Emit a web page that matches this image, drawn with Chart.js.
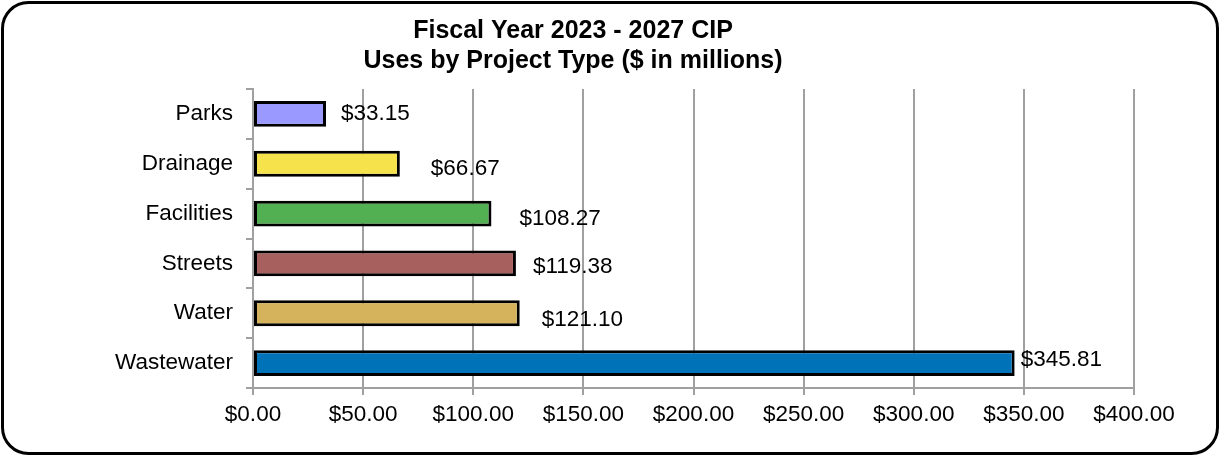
<!DOCTYPE html>
<html lang="en">
  <head>
    <meta charset="utf-8">
    <title>CIP Uses by Project Type</title>
    <style>
      body {
        margin: 0;
        background: #ffffff;
      }
      .chart-box {
        width: 1220px;
        height: 456px;
      }
    </style>
    <script src="https://cdn.jsdelivr.net/npm/chart.js@4.4.4/dist/chart.umd.min.js"></script>
  </head>
  <body>
    <div class="chart-box">
      <canvas id="cip-chart"></canvas>
    </div>
    <script>
      const projectTypes = ['Parks', 'Drainage', 'Facilities', 'Streets', 'Water', 'Wastewater'];
      const usesMillions = [33.15, 66.67, 108.27, 119.38, 121.10, 345.81];
      const titleLines = ['Fiscal Year 2023 - 2027 CIP', 'Uses by Project Type ($ in millions)'];
      const barColors = ['#9999ff', '#f6e34c', '#52b052', '#a8605e', '#d5b35d', '#0072b8'];
      // hand-placed label nudges [dx, dy] in px
      const labelNudges = [[15, 0], [31, 5], [28, 5], [17, 3], [22, 7], [6, -3]];

      const money = v => '$' + Number(v).toFixed(2);
      const font = 'Liberation Sans, Arial, sans-serif';

      const framePlugin = {
        id: 'frame',
        beforeDraw(chart) {
          const ctx = chart.ctx;
          ctx.save();
          ctx.fillStyle = '#ffffff';
          ctx.fillRect(0, 0, chart.width, chart.height);
          ctx.beginPath();
          ctx.roundRect(2.5, 2.5, chart.width - 5, chart.height - 5, 26);
          ctx.lineWidth = 3;
          ctx.strokeStyle = '#000000';
          ctx.stroke();
          ctx.restore();
        },
        afterDraw(chart) {
          const ctx = chart.ctx;
          ctx.save();
          ctx.fillStyle = '#000000';
          ctx.font = 'bold 25px ' + font;
          ctx.textAlign = 'center';
          ctx.textBaseline = 'alphabetic';
          ctx.fillText(titleLines[0], 573, 38);
          ctx.fillText(titleLines[1], 573, 68);
          ctx.restore();
        }
      };

      const valueLabels = {
        id: 'valueLabels',
        afterDatasetsDraw(chart) {
          const ctx = chart.ctx;
          const meta = chart.getDatasetMeta(0);
          ctx.save();
          ctx.fillStyle = '#000000';
          ctx.font = '22.5px ' + font;
          ctx.textAlign = 'left';
          ctx.textBaseline = 'middle';
          meta.data.forEach((bar, i) => {
            const [dx, dy] = labelNudges[i];
            ctx.fillText(money(usesMillions[i]), bar.x + dx, bar.y + dy);
          });
          ctx.restore();
        }
      };

      new Chart(document.getElementById('cip-chart'), {
        type: 'bar',
        data: {
          labels: projectTypes,
          datasets: [{
            data: usesMillions,
            backgroundColor: barColors,
            borderColor: '#000000',
            borderWidth: 3,
            borderSkipped: false,
            barPercentage: 0.52,
            categoryPercentage: 1
          }]
        },
        options: {
          indexAxis: 'y',
          responsive: true,
          maintainAspectRatio: false,
          animation: false,
          layout: {
            padding: { left: 10, right: 86, top: 89, bottom: 0 }
          },
          plugins: {
            legend: { display: false },
            title: { display: false },
            tooltip: { enabled: false }
          },
          scales: {
            x: {
              min: 0,
              max: 400,
              ticks: {
                stepSize: 50,
                color: '#000000',
                font: { family: font, size: 22.5 },
                padding: 6,
                callback: v => money(v)
              },
              grid: {
                color: '#a0a0a0',
                lineWidth: 2,
                tickLength: 7
              },
              border: { color: '#a0a0a0', width: 2 },
              afterFit(scale) { scale.height = 68; }
            },
            y: {
              ticks: {
                color: '#000000',
                font: { family: font, size: 22.5 },
                padding: 13
              },
              grid: {
                drawOnChartArea: false,
                color: '#a0a0a0',
                lineWidth: 2,
                tickLength: 7
              },
              border: { color: '#a0a0a0', width: 2 },
              afterFit(scale) { scale.width = 243; }
            }
          }
        },
        plugins: [framePlugin, valueLabels]
      });
    </script>
  </body>
</html>
